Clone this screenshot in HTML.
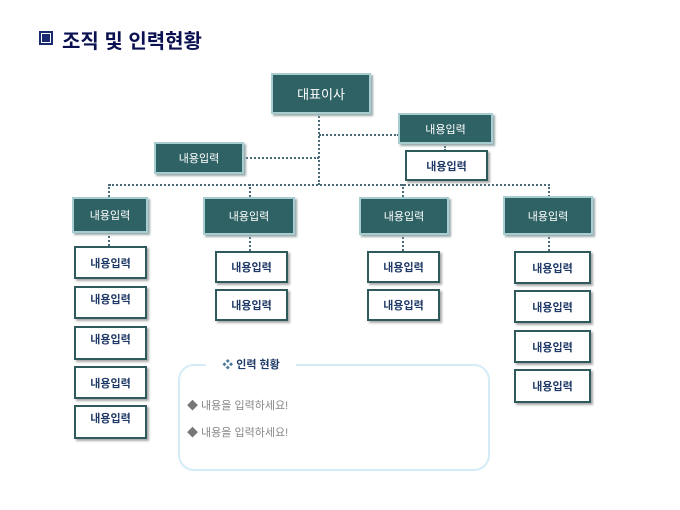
<!DOCTYPE html>
<html><head><meta charset="utf-8"><style>
body{margin:0;width:680px;height:510px;background:#fff;position:relative;overflow:hidden;font-family:"Liberation Sans","Noto Sans CJK KR",sans-serif}
.a{position:absolute}
.t{position:absolute;background:#2f6265;border:2px solid #a7cdd1;box-shadow:2px 2px 2px #9aa;color:#fff;font-size:11px;display:flex;align-items:center;justify-content:center;box-sizing:border-box}
.w{position:absolute;background:#fff;border:2px solid #2f5a5c;box-shadow:2px 2px 2px #aaa;color:#1f3a66;font-size:11px;font-weight:bold;display:flex;align-items:center;justify-content:center;box-sizing:border-box}
.top{align-items:flex-start;padding-top:3px}
.v{position:absolute;border-left:2px dotted #4a6a78;width:0}
.h{position:absolute;border-top:2px dotted #4a6a78;height:0}
</style></head><body>
<div class="a" style="left:39px;top:31px;width:10px;height:10px;border:2px solid #1a2a70;background:#fff"></div>
<div class="a" style="left:42px;top:34px;width:8px;height:8px;background:#1a2a70"></div>
<div class="a" style="left:62px;top:25px;font-size:20px;font-weight:bold;color:#0a1050">조직 및 인력현황</div>

<div class="v" style="left:318px;top:113px;height:72px"></div>
<div class="h" style="left:319px;top:134px;width:80px"></div>
<div class="h" style="left:243px;top:157px;width:76px"></div>
<div class="v" style="left:444px;top:143px;height:8px"></div>
<div class="h" style="left:109px;top:184px;width:441px"></div>
<div class="v" style="left:108px;top:184px;height:13px"></div>
<div class="v" style="left:249px;top:184px;height:13px"></div>
<div class="v" style="left:402px;top:184px;height:13px"></div>
<div class="v" style="left:548px;top:184px;height:13px"></div>
<div class="v" style="left:108px;top:232px;height:14px"></div>
<div class="v" style="left:249px;top:234px;height:17px"></div>
<div class="v" style="left:402px;top:234px;height:17px"></div>
<div class="v" style="left:548px;top:234px;height:17px"></div>

<div class="t" style="left:271px;top:73px;width:100px;height:41px;font-size:13px">대표이사</div>
<div class="t" style="left:398px;top:113px;width:95px;height:31px">내용입력</div>
<div class="w" style="left:405px;top:150px;width:83px;height:31px">내용입력</div>
<div class="t" style="left:154px;top:142px;width:90px;height:32px">내용입력</div>

<div class="t" style="left:72px;top:197px;width:76px;height:36px">내용입력</div>
<div class="t" style="left:203px;top:197px;width:92px;height:38px">내용입력</div>
<div class="t" style="left:359px;top:197px;width:90px;height:38px">내용입력</div>
<div class="t" style="left:503px;top:196px;width:90px;height:39px">내용입력</div>

<div class="w" style="left:74px;top:246px;width:73px;height:33px">내용입력</div>
<div class="w top" style="left:74px;top:286px;width:73px;height:33px">내용입력</div>
<div class="w top" style="left:74px;top:326px;width:73px;height:34px">내용입력</div>
<div class="w" style="left:74px;top:366px;width:73px;height:33px">내용입력</div>
<div class="w top" style="left:74px;top:405px;width:73px;height:34px">내용입력</div>

<div class="w" style="left:215px;top:251px;width:73px;height:32px">내용입력</div>
<div class="w" style="left:215px;top:289px;width:73px;height:32px">내용입력</div>
<div class="w" style="left:367px;top:251px;width:73px;height:32px">내용입력</div>
<div class="w" style="left:367px;top:289px;width:73px;height:32px">내용입력</div>

<div class="w" style="left:514px;top:251px;width:77px;height:33px">내용입력</div>
<div class="w" style="left:514px;top:290px;width:77px;height:33px">내용입력</div>
<div class="w" style="left:514px;top:330px;width:77px;height:33px">내용입력</div>
<div class="w" style="left:514px;top:369px;width:77px;height:34px">내용입력</div>

<div class="a" style="left:178px;top:364px;width:308px;height:103px;border:2px solid #d4ecf7;border-radius:16px"></div>
<div class="a" style="left:206px;top:356px;width:90px;height:18px;background:#fff;font-size:11px;font-weight:bold;color:#1f3a66;text-align:center;line-height:18px"><span style="color:#4a7a9a">❖</span> 인력 현황</div>
<div class="a" style="left:187px;top:397px;font-size:11px;color:#888"><span style="color:#777">◆</span> 내용을 입력하세요!</div>
<div class="a" style="left:187px;top:424px;font-size:11px;color:#888"><span style="color:#777">◆</span> 내용을 입력하세요!</div>
</body></html>
